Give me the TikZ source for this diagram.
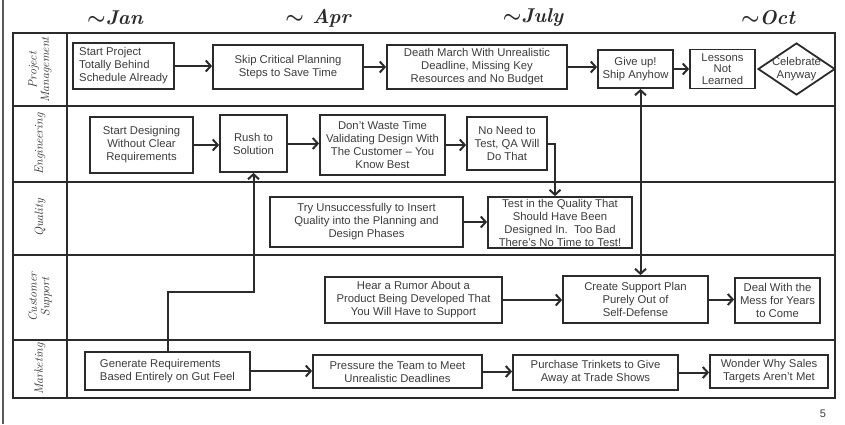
\documentclass[tikz,border=0pt]{standalone}
\usepackage{fontspec}
\newfontfamily\boxfont{Liberation Sans}
\usetikzlibrary{arrows.meta,shapes.geometric}
\definecolor{ink}{HTML}{2B2B2B}
\definecolor{txt}{HTML}{3C3C3C}
\begin{document}
\begin{tikzpicture}[x=1pt,y=-1pt,
  box/.style={draw=ink, line width=1.8pt, font=\boxfont\fontsize{11.3}{13}\selectfont, text=txt, align=center, inner sep=1pt},
  arr/.style={draw=ink, line width=2pt, -{Straight Barb[length=5pt,width=11pt]}},
  arrtwo/.style={draw=ink, line width=2pt, {Straight Barb[length=5pt,width=11pt]}-{Straight Barb[length=5pt,width=11pt]}},
  lane/.style={draw=ink, line width=1.6pt},
  lanelabel/.style={rotate=90, font=\itshape\fontsize{12}{12.5}\selectfont, text=ink, align=center},
  month/.style={font=\boldmath\bfseries\itshape\fontsize{20}{22}\selectfont, text=ink}
]
\useasboundingbox (0,0) rectangle (845,424);
% page border
\draw[line width=1.5pt, draw=gray!70!black] (3,0) -- (3,424);
% swimlane grid
\draw[lane] (13,33) rectangle (835,398);
\draw[lane] (67,33) -- (67,398);
\foreach \y in {106,182,255,340} \draw[lane] (13,\y) -- (835,\y);
% months
\node[month] (jan) at (115,18) {$\sim$Jan};
\node[month] (apr) at (318,18) {$\sim$ Apr};
\node[month] (jul) at (533,18) {$\sim$July};
\node[month] (oct) at (768,18) {$\sim$Oct};
% lane labels
\node[lanelabel] (lpm) at (40,70) {Project\\Management};
\node[lanelabel] (leng) at (40,144) {Engineering};
\node[lanelabel] (lqa) at (40,218) {Quality};
\node[lanelabel] (lcs) at (40,297) {Customer\\Support};
\node[lanelabel] (lmk) at (40,369) {Marketing};
% Project management
\node[box, align=left, minimum width=101pt, minimum height=46pt] (pm1) at (123.5,66) {Start Project\\Totally Behind\\Schedule Already};
\node[box, minimum width=150pt, minimum height=44pt] (pm2) at (288,67) {Skip Critical Planning\\Steps to Save Time};
\node[box, minimum width=180pt, minimum height=44pt] (pm3) at (477,67) {Death March With Unrealistic\\Deadline, Missing Key\\Resources and No Budget};
\node[box, minimum width=75pt, minimum height=38pt] (pm4) at (635.5,69) {Give up!\\Ship Anyhow};
\node[box, font=\boxfont\fontsize{11.3}{11.8}\selectfont, minimum width=65pt, minimum height=39pt, inner sep=0pt] (pm5) at (722.5,69) {Lessons\\Not\\Learned};
\node[diamond, draw=ink, line width=1.8pt, minimum width=77pt, minimum height=52pt, inner sep=0pt] (pm6) at (796.5,69) {};
\node[font=\boxfont\fontsize{11.3}{13}\selectfont, text=txt, align=center, inner sep=0pt] (pm6t) at (pm6.center) {Celebrate\\Anyway};
% Engineering
\node[box, minimum width=103pt, minimum height=56pt] (e1) at (141.5,145) {Start Designing\\Without Clear\\Requirements};
\node[box, minimum width=67pt, minimum height=57pt] (e2) at (253.5,143.5) {Rush to\\Solution};
\node[box, minimum width=125pt, minimum height=60pt] (e3) at (382.5,145) {Don’t Waste Time\\Validating Design With\\The Customer – You\\Know Best};
\node[box, minimum width=80pt, minimum height=53pt] (e4) at (507,143.5) {No Need to\\Test, QA Will\\Do That};
% Quality
\node[box, minimum width=193pt, minimum height=50pt] (q1) at (366.5,222) {Try Unsuccessfully to Insert\\Quality into the Planning and\\Design Phases};
\node[box, minimum width=144pt, minimum height=51pt] (q2) at (560,222.5) {Test in the Quality That\\Should Have Been\\Designed In.\ \ Too Bad\\There’s No Time to Test!};
% Customer support
\node[box, minimum width=177pt, minimum height=46pt] (c1) at (413.5,300) {Hear a Rumor About a\\Product Being Developed That\\You Will Have to Support};
\node[box, minimum width=145pt, minimum height=47pt] (c2) at (635.5,299.5) {Create Support Plan\\Purely Out of\\Self-Defense};
\node[box, minimum width=85pt, minimum height=45pt] (c3) at (777.5,300.5) {Deal With the\\Mess for Years\\to Come};
% Marketing
\node[box, align=left, minimum width=165pt, minimum height=38pt] (m1) at (167.5,371) {Generate Requirements\\Based Entirely on Gut Feel};
\node[box, minimum width=169pt, minimum height=33pt] (m2) at (397.5,371.5) {Pressure the Team to Meet\\Unrealistic Deadlines};
\node[box, minimum width=165pt, minimum height=35pt] (m3) at (595.5,372.5) {Purchase Trinkets to Give\\Away at Trade Shows};
\node[box, minimum width=118pt, minimum height=33pt] (m4) at (769,371.5) {Wonder Why Sales\\Targets Aren’t Met};
% page number
\node[font=\boxfont\fontsize{11}{12}\selectfont, text=txt] (pg) at (823,414) {5};
% connectors
\draw[arr] (pm1.east) -- (pm2.west |- pm1.east);
\draw[arr] (pm2.east) -- (pm3.west |- pm2.east);
\draw[arr] (pm3.east) -- (pm4.west |- pm3.east);
\draw[arr] (pm4.east) -- (pm5.west |- pm4.east);
\draw[arr] (e1.east) -- (e2.west |- e1.east);
\draw[arr] (e2.east) -- (e3.west |- e2.east);
\draw[arr] (e3.east) -- (e4.west |- e3.east);
\draw[arr] (e4.east) -| ([xshift=-5pt]q2.north);
\draw[arr] (q1.east) -- (q2.west |- q1.east);
\draw[arr] (c1.east) -- (c2.west |- c1.east);
\draw[arr] (c2.east) -- (c3.west |- c2.east);
\draw[arr] (m1.east) -- (m2.west |- m1.east);
\draw[arr] (m2.east) -- (m3.west |- m2.east);
\draw[arr] (m3.east) -- (m4.west |- m3.east);
\coordinate (jog) at (167.5,292);
\draw[arr] (m1.north) -- (jog) -| (e2.south);
\draw[arrtwo] ([xshift=5pt]pm4.south) -- ([xshift=5pt]c2.north);
\end{tikzpicture}
\end{document}
